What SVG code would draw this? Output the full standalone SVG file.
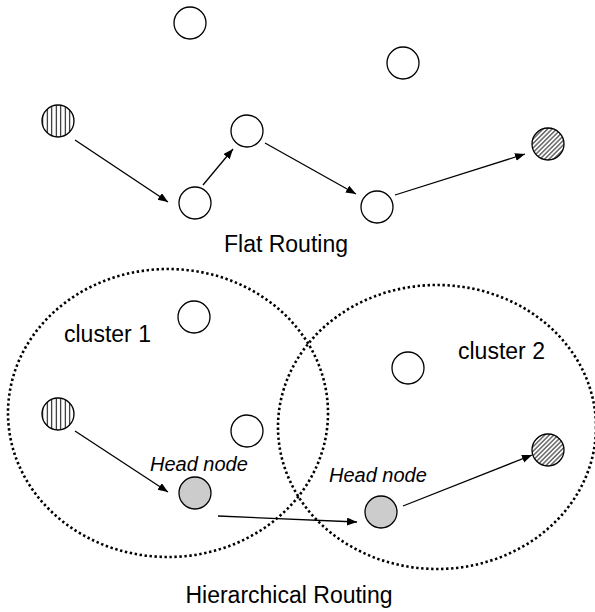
<svg xmlns="http://www.w3.org/2000/svg" width="595" height="612" viewBox="0 0 595 612">
<style>
.n{fill:#fff;stroke:#000;stroke-width:1.3}
.h{fill:#cccccc;stroke:#000;stroke-width:1.3}
.c{fill:none;stroke:#000;stroke-width:1.3}
.cl{fill:none;stroke:#000;stroke-width:2.6;stroke-dasharray:2.4 2.6}
.t{font-family:"Liberation Sans",Arial,sans-serif;font-size:23px;fill:#000}
.i{font-family:"Liberation Sans",Arial,sans-serif;font-size:20px;font-style:italic;fill:#000}
</style>
<defs>
<pattern id="vert" patternUnits="userSpaceOnUse" width="4.5" height="10">
<rect width="4.5" height="10" fill="#fff"/>
<line x1="2.25" y1="0" x2="2.25" y2="10" stroke="#000" stroke-width="1"/>
</pattern>
<pattern id="diag" patternUnits="userSpaceOnUse" width="3.2" height="10" patternTransform="rotate(45)">
<rect width="3.2" height="10" fill="#fff"/>
<line x1="1.6" y1="0" x2="1.6" y2="10" stroke="#000" stroke-width="0.9"/>
</pattern>
<marker id="ar" markerUnits="userSpaceOnUse" markerWidth="11" markerHeight="9" refX="10" refY="4" orient="auto">
<path d="M0,0 L10,4 L0,8 z" fill="#000"/>
</marker>
</defs>
<g id="clusters">
<ellipse id="cluster1" class="cl" cx="168" cy="413" rx="160" ry="144"/>
<ellipse id="cluster2" class="cl" cx="437" cy="427" rx="159" ry="142"/>
</g>
<g id="connectors">
<line class="c" x1="75" y1="140" x2="168" y2="202" marker-end="url(#ar)"/>
<line class="c" x1="203" y1="185" x2="233" y2="149" marker-end="url(#ar)"/>
<line class="c" x1="265" y1="143" x2="356" y2="194" marker-end="url(#ar)"/>
<line class="c" x1="395" y1="195" x2="525" y2="154" marker-end="url(#ar)"/>
<line class="c" x1="75" y1="431" x2="168" y2="492" marker-end="url(#ar)"/>
<line class="c" x1="218" y1="516" x2="357" y2="522" marker-end="url(#ar)"/>
<line class="c" x1="403" y1="506" x2="532" y2="455" marker-end="url(#ar)"/>
</g>
<g id="n1"><circle class="n" cx="190" cy="23" r="16"/></g>
<g id="n2"><circle class="n" cx="403" cy="63" r="16"/></g>
<g id="src1"><circle cx="58" cy="121" r="16" fill="url(#vert)" stroke="#000" stroke-width="1.3"/></g>
<g id="n3"><circle class="n" cx="247" cy="131" r="16"/></g>
<g id="n4"><circle class="n" cx="195" cy="203" r="16"/></g>
<g id="n5"><circle class="n" cx="377" cy="207" r="16"/></g>
<g id="dst1"><circle cx="548" cy="144" r="16" fill="url(#diag)" stroke="#000" stroke-width="1.3"/></g>
<g id="flat-label"><text class="t" x="286" y="252" text-anchor="middle">Flat Routing</text></g>
<g id="cluster1-label"><text class="t" x="64" y="342">cluster 1</text></g>
<g id="cluster2-label"><text class="t" x="458" y="359">cluster 2</text></g>
<g id="m1"><circle class="n" cx="194" cy="317" r="16"/></g>
<g id="m2"><circle class="n" cx="408" cy="368" r="16"/></g>
<g id="src2"><circle cx="58" cy="414" r="16" fill="url(#vert)" stroke="#000" stroke-width="1.3"/></g>
<g id="m3"><circle class="n" cx="247" cy="431" r="16"/></g>
<g id="head1"><circle class="h" cx="195" cy="493" r="16"/><text class="i" x="150" y="471">Head node</text></g>
<g id="head2"><circle class="h" cx="381" cy="512" r="16"/><text class="i" x="329" y="482">Head node</text></g>
<g id="dst2"><circle cx="548" cy="450" r="16" fill="url(#diag)" stroke="#000" stroke-width="1.3"/></g>
<g id="hier-label"><text class="t" x="289" y="603" text-anchor="middle">Hierarchical Routing</text></g>
</svg>
